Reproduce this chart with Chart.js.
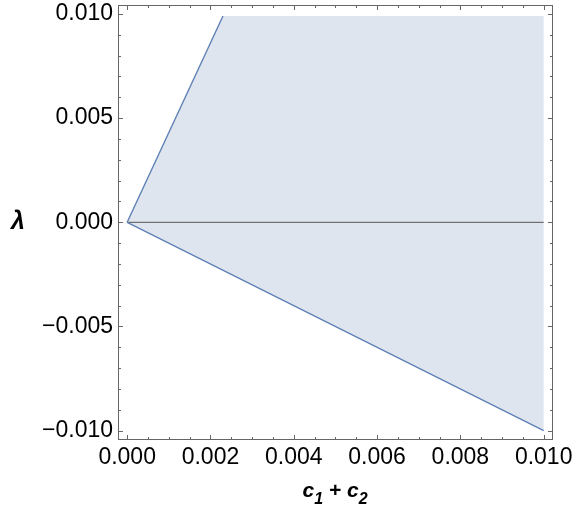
<!DOCTYPE html>
<html>
<head>
<meta charset="utf-8">
<script src="https://cdn.jsdelivr.net/npm/chart.js@4/dist/chart.umd.min.js"></script>
<style>
  html, body { margin: 0; padding: 0; background: #ffffff; }
  #wrap { width: 576px; height: 508px; }
</style>
</head>
<body>
<div id="wrap"><canvas id="c" width="576" height="508"></canvas></div>
<script>
// ---- data ----
const regionX = [0, 0.0023, 0.01, 0.01, 0];
const regionY = [0, 0.0099, 0.0099, -0.01, 0];
const upperBoundaryX = [0, 0.0023];
const upperBoundaryY = [0, 0.0099];
const lowerBoundaryX = [0, 0.01];
const lowerBoundaryY = [0, -0.01];
const zeroLineX = [0, 0.01];
const zeroLineY = [0, 0];

const xTickValues = [0, 0.002, 0.004, 0.006, 0.008, 0.010];
const yTickValues = [-0.010, -0.005, 0, 0.005, 0.010];
const xMinorTicks = [0.0005, 0.001, 0.0015, 0.0025, 0.003, 0.0035, 0.0045, 0.005, 0.0055,
                     0.0065, 0.007, 0.0075, 0.0085, 0.009, 0.0095];
const yMinorTicks = [-0.009, -0.008, -0.007, -0.006, -0.004, -0.003, -0.002, -0.001,
                     0.001, 0.002, 0.003, 0.004, 0.006, 0.007, 0.008, 0.009];
// x title pieces: [text, isSubscript]
const xTitleParts = [['c', false], ['1', true], [' + ', false], ['c', false], ['2', true]];
const yTitle = '\u03bb';

const pts = (xs, ys) => xs.map((x, i) => ({ x: x, y: ys[i] }));

const FRAME = '#666666';
const LINE = '#5e81b5';
const FILL = 'rgb(223,229,239)';
const FAMILY = '"Liberation Sans", Arial, sans-serif';
const TICK_FONT = { family: FAMILY, size: 23 };

const framePlugin = {
  id: 'frameTicks',
  afterDatasetsDraw(chart) {
    const { ctx, chartArea: a, scales } = chart;
    const xs = scales.x, ys = scales.y;
    ctx.save();
    ctx.strokeStyle = FRAME;
    ctx.lineWidth = 1;
    ctx.strokeRect(a.left + 0.5, a.top + 0.5, a.right - a.left, a.bottom - a.top);
    ctx.beginPath();
    const drawX = (v, len) => {
      const px = Math.round(xs.getPixelForValue(v)) + 0.5;
      ctx.moveTo(px, a.bottom + 0.5); ctx.lineTo(px, a.bottom + 0.5 - len);
      ctx.moveTo(px, a.top + 0.5); ctx.lineTo(px, a.top + 0.5 + len);
    };
    const drawY = (v, len) => {
      const py = Math.round(ys.getPixelForValue(v)) + 0.5;
      ctx.moveTo(a.left + 0.5, py); ctx.lineTo(a.left + 0.5 + len, py);
      ctx.moveTo(a.right + 0.5, py); ctx.lineTo(a.right + 0.5 - len, py);
    };
    xTickValues.forEach(v => drawX(v, 4.5));
    xMinorTicks.forEach(v => drawX(v, 2.5));
    yTickValues.forEach(v => drawY(v, 4.5));
    yMinorTicks.forEach(v => drawY(v, 2.5));
    ctx.stroke();

    ctx.fillStyle = '#000000';
    // unrotated y-axis title
    ctx.font = 'italic bold 25px ' + FAMILY;
    ctx.textAlign = 'center';
    ctx.textBaseline = 'alphabetic';
    ctx.fillText(yTitle, 18, ys.getPixelForValue(0) + 7);

    // x-axis title with real subscripts
    const mainFont = 'italic bold 21px ' + FAMILY;
    const subFont = 'italic bold 16px ' + FAMILY;
    let total = 0;
    xTitleParts.forEach(([t, sub]) => { ctx.font = sub ? subFont : mainFont; total += ctx.measureText(t).width; });
    let x = (a.left + a.right) / 2 - total / 2;
    const base = 497;
    ctx.textAlign = 'left';
    xTitleParts.forEach(([t, sub]) => {
      ctx.font = sub ? subFont : mainFont;
      ctx.fillText(t, x, sub ? base + 7 : base);
      x += ctx.measureText(t).width;
    });
    ctx.restore();
  }
};

const fmt = v => Number(v).toFixed(3).replace('-', '\u2212');

new Chart(document.getElementById('c'), {
  type: 'scatter',
  data: {
    datasets: [
      { label: 'region', data: pts(regionX, regionY), showLine: true, fill: 'shape',
        backgroundColor: FILL, borderWidth: 0, borderColor: 'rgba(0,0,0,0)',
        pointRadius: 0, order: 3 },
      { label: 'zero', data: pts(zeroLineX, zeroLineY), showLine: true, fill: false,
        borderColor: '#555555', borderWidth: 1, pointRadius: 0, order: 2 },
      { label: 'upper', data: pts(upperBoundaryX, upperBoundaryY), showLine: true, fill: false,
        borderColor: LINE, borderWidth: 1.4, pointRadius: 0, order: 1 },
      { label: 'lower', data: pts(lowerBoundaryX, lowerBoundaryY), showLine: true, fill: false,
        borderColor: LINE, borderWidth: 1.4, pointRadius: 0, order: 1 }
    ]
  },
  options: {
    responsive: false,
    animation: false,
    devicePixelRatio: 1,
    layout: { padding: { left: 0, right: 24, top: 5, bottom: 0 } },
    plugins: { legend: { display: false }, tooltip: { enabled: false } },
    scales: {
      x: {
        type: 'linear', min: -0.00022, max: 0.0102,
        grid: { display: false, drawTicks: false },
        border: { display: false },
        afterBuildTicks: s => { s.ticks = xTickValues.map(v => ({ value: v })); },
        afterFit: s => { s.height = 69; s.paddingLeft = 0; s.paddingRight = 0; },
        ticks: { autoSkip: false, maxRotation: 0, color: '#000000', font: TICK_FONT,
                 padding: 5, callback: v => fmt(v) },
        title: { display: false }
      },
      y: {
        type: 'linear', min: -0.0104, max: 0.01043,
        grid: { display: false, drawTicks: false },
        border: { display: false },
        afterBuildTicks: s => { s.ticks = yTickValues.map(v => ({ value: v })); },
        afterFit: s => { s.width = 118; s.paddingTop = 0; s.paddingBottom = 0; },
        ticks: { autoSkip: false, color: '#000000', font: TICK_FONT,
                 padding: 5, callback: v => fmt(v) }
      }
    }
  },
  plugins: [framePlugin]
});
</script>
</body>
</html>
